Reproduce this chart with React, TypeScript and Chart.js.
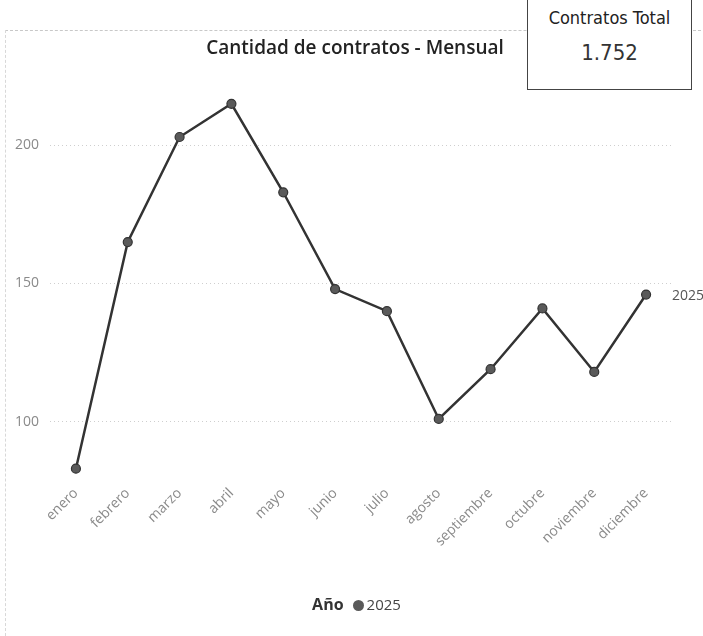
import React, { useEffect, useRef } from "react";
import { Chart, registerables } from "chart.js";

Chart.register(...registerables);

const months = [
  "enero", "febrero", "marzo", "abril", "mayo", "junio",
  "julio", "agosto", "septiembre", "octubre", "noviembre", "diciembre",
];
const values2025 = [83, 165, 203, 215, 183, 148, 140, 101, 119, 141, 118, 146];
const yTicks = [100, 150, 200];
const seriesName = "2025";
const legendTitle = "Año";
const chartTitle = "Cantidad de contratos - Mensual";
const cardLabel = "Contratos Total";
const cardValue = "1.752";

const LINE = "#333333";
const POINT = "#5a5a5a";

const endLabelPlugin = {
  id: "endLabel",
  afterDatasetsDraw(chart: any) {
    const meta = chart.getDatasetMeta(0);
    const pt = meta.data[meta.data.length - 1];
    if (!pt) return;
    const ctx = chart.ctx;
    ctx.save();
    ctx.font = "14px 'Open Sans', sans-serif";
    ctx.fillStyle = "#555";
    ctx.textAlign = "left";
    ctx.textBaseline = "middle";
    ctx.fillText(chart.data.datasets[0].label, pt.x + 26, pt.y + 1);
    ctx.restore();
  },
};

export default function App() {
  const ref = useRef<HTMLCanvasElement>(null);

  useEffect(() => {
    if (!ref.current) return;
    const chart = new Chart(ref.current, {
      type: "line",
      data: {
        labels: months,
        datasets: [
          {
            label: seriesName,
            data: values2025,
            borderColor: LINE,
            borderWidth: 2.5,
            pointRadius: 4.5,
            pointBackgroundColor: POINT,
            pointBorderColor: LINE,
            pointBorderWidth: 1.2,
            tension: 0,
          },
        ],
      },
      options: {
        animation: false,
        responsive: false,
        maintainAspectRatio: false,
        layout: { padding: { left: 0, right: 31, top: 90, bottom: 59 } },
        plugins: {
          legend: { display: false },
          tooltip: { enabled: false },
          title: { display: false },
        },
        scales: {
          x: {
            type: "category",
            offset: true,
            grid: { display: false, drawTicks: false },
            border: { display: false },
            ticks: {
              minRotation: 45,
              maxRotation: 45,
              padding: 8,
              color: "#8a8a8a",
              font: { family: "'Open Sans', sans-serif", size: 14 },
            },
            afterFit(scale: any) {
              scale.height = 100;
            },
          },
          y: {
            min: 80,
            max: 220,
            grid: { color: "#cfcfcf", drawTicks: false, lineWidth: 1 },
            border: { display: false, dash: [1, 3] },
            afterBuildTicks(scale: any) {
              scale.ticks = yTicks.map((v) => ({ value: v }));
            },
            ticks: {
              padding: 11,
              color: "#8a8a8a",
              font: { family: "'Open Sans', sans-serif", size: 14 },
            },
            afterFit(scale: any) {
              scale.width = 50;
            },
          },
        },
      },
      plugins: [endLabelPlugin],
    });
    return () => chart.destroy();
  }, []);

  return (
    <div
      style={{
        position: "fixed",
        left: 0,
        top: 0,
        width: 703,
        height: 636,
        background: "#ffffff",
        overflow: "hidden",
      }}
    >
      <div
        style={{
          position: "absolute",
          left: 5,
          top: 30,
          width: 695,
          height: 610,
          borderTop: "1px dashed #c8c8c8",
          borderLeft: "1px dashed #d8d8d8",
        }}
      />
      <canvas
        ref={ref}
        width={703}
        height={636}
        style={{ position: "absolute", left: 0, top: 0, width: 703, height: 636 }}
      />
      <div
        style={{
          position: "absolute",
          left: 205,
          top: 34,
          width: 300,
          textAlign: "center",
          fontFamily: "'Open Sans', sans-serif",
          fontSize: 19,
          fontWeight: 600,
          color: "#222",
          whiteSpace: "nowrap",
        }}
      >
        {chartTitle}
      </div>
      <div
        style={{
          position: "absolute",
          left: 527,
          top: -2,
          width: 165,
          height: 92,
          border: "1.5px solid #444",
          background: "#fff",
          fontFamily: "'Liberation Sans Narrow', 'DejaVu Sans Condensed', sans-serif",
          color: "#222",
          textAlign: "center",
          boxSizing: "border-box",
        }}
      >
        <div style={{ fontSize: 18, marginTop: 8 }}>{cardLabel}</div>
        <div style={{ fontSize: 22, marginTop: 12, color: "#333" }}>{cardValue}</div>
      </div>
      <div
        style={{
          position: "absolute",
          left: 0,
          top: 593,
          width: 713,
          textAlign: "center",
          fontFamily: "'Open Sans', sans-serif",
          fontSize: 15,
          color: "#444",
        }}
      >
        <span style={{ fontWeight: 700, color: "#333", fontSize: 16 }}>{legendTitle}</span>
        <span
          style={{
            display: "inline-block",
            width: 11,
            height: 11,
            borderRadius: "50%",
            background: POINT,
            margin: "0 3px 0 9px",
            verticalAlign: "-1px",
          }}
        />
        <span>{seriesName}</span>
      </div>
    </div>
  );
}
